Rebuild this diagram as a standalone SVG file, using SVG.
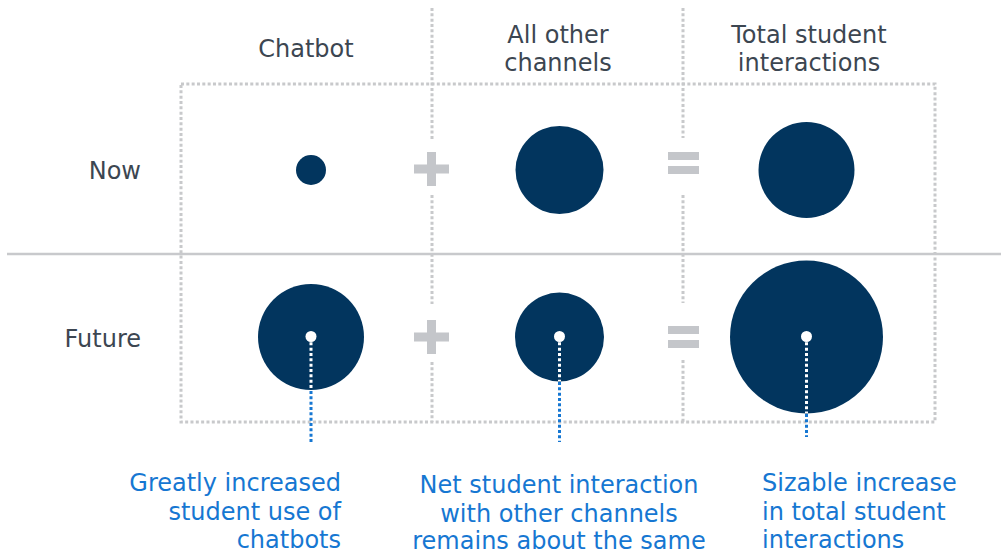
<svg xmlns="http://www.w3.org/2000/svg" width="1001" height="554" viewBox="0 0 1001 554">
<style>
.lbl{font-family:"DejaVu Sans",Verdana,sans-serif;font-size:24px;fill:#3c4651}
.note{font-family:"DejaVu Sans",Verdana,sans-serif;font-size:24px;fill:#1677d2}
.grid{stroke:#c8c9cb;stroke-width:3;stroke-dasharray:3 2.33;fill:none}
.ball{fill:#02355e}
.sym{fill:#c4c6ca}
.dot{fill:#ffffff}
.lw{stroke:#ffffff;stroke-width:3;stroke-dasharray:3 2.33}
.lb{stroke:#1677d2;stroke-width:3;stroke-dasharray:3 2.33}
</style>
<rect width="1001" height="554" fill="#ffffff"/>
<g id="grid">
<rect class="grid" x="181" y="84" width="754" height="338"/>
<path class="grid" d="M432 8V140M432 195V304M432 362V422M683 8V138M683 195V303M683 360V422"/>
<line x1="7" y1="254" x2="1001" y2="254" stroke="#c8c9cc" stroke-width="2.5"/>
</g>
<g id="headers">
<text class="lbl" x="306" y="57" text-anchor="middle">Chatbot</text>
<text class="lbl" x="558" y="43" text-anchor="middle">All other</text>
<text class="lbl" x="558" y="71" text-anchor="middle">channels</text>
<text class="lbl" x="809" y="43" text-anchor="middle">Total student</text>
<text class="lbl" x="809" y="71" text-anchor="middle">interactions</text>
<text class="lbl" x="141" y="179" text-anchor="end">Now</text>
<text class="lbl" x="141" y="347" text-anchor="end">Future</text>
</g>
<g id="operators">
<path class="sym" d="M414 164.5H449V173.5H414ZM427 152H436V186H427Z"/>
<path class="sym" d="M668 152H699V160H668ZM668 166H699V174H668Z"/>
<path class="sym" d="M414 332.5H449V341.5H414ZM427 320H436V354H427Z"/>
<path class="sym" d="M668 326H699V334H668ZM668 340H699V348H668Z"/>
</g>
<g id="now-chatbot"><circle class="ball" cx="311" cy="170" r="15"/></g>
<g id="now-other"><circle class="ball" cx="559.5" cy="170" r="44"/></g>
<g id="now-total"><circle class="ball" cx="806.5" cy="170" r="48"/></g>
<g id="future-chatbot"><circle class="ball" cx="311" cy="337" r="53"/></g>
<g id="future-other"><circle class="ball" cx="559.5" cy="337" r="44.5"/></g>
<g id="future-total"><circle class="ball" cx="806.5" cy="337" r="76.5"/></g>
<g id="connectors">
<line class="lw" x1="311" y1="337" x2="311" y2="390"/>
<line class="lb" x1="311" y1="391" x2="311" y2="442"/>
<line class="lw" x1="559.5" y1="337" x2="559.5" y2="381"/>
<line class="lb" x1="559.5" y1="382" x2="559.5" y2="442"/>
<line class="lw" x1="806.5" y1="337" x2="806.5" y2="413"/>
<line class="lb" x1="806.5" y1="414" x2="806.5" y2="437"/>
<circle class="dot" cx="311" cy="336.5" r="5.5"/>
<circle class="dot" cx="559.5" cy="336.5" r="5.5"/>
<circle class="dot" cx="806.5" cy="336.5" r="5.5"/>
</g>
<g id="note-chatbot">
<text class="note" x="341" y="491" text-anchor="end">Greatly increased</text>
<text class="note" x="341" y="520" text-anchor="end">student use of</text>
<text class="note" x="341" y="548" text-anchor="end">chatbots</text>
</g>
<g id="note-other">
<text class="note" x="559" y="493" text-anchor="middle">Net student interaction</text>
<text class="note" x="559" y="521.5" text-anchor="middle">with other channels</text>
<text class="note" x="559" y="549" text-anchor="middle">remains about the same</text>
</g>
<g id="note-total">
<text class="note" x="762" y="491">Sizable increase</text>
<text class="note" x="762" y="520">in total student</text>
<text class="note" x="762" y="548">interactions</text>
</g>
</svg>
